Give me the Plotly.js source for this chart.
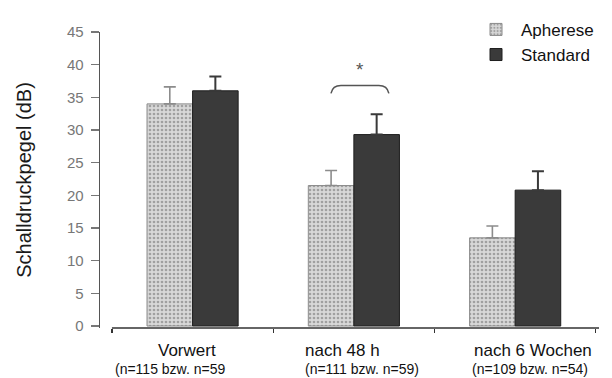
<!DOCTYPE html>
<html>
<head>
<meta charset="utf-8">
<script src="https://cdn.plot.ly/plotly-3.0.1.min.js"></script>
<style>html,body{margin:0;padding:0;background:#fff;}#chart{width:612px;height:378px;}</style>
</head>
<body>
<div id="chart"></div>
<script>
const categories = ["Vorwert", "nach 48 h", "nach 6 Wochen"];
const sampleNotes = ["(n=115 bzw. n=59", "(n=111 bzw. n=59)", "(n=109 bzw. n=54)"];
const seriesNames = ["Apherese", "Standard"];
const apherese = [34.0, 21.5, 13.5];
const apherErr = [2.6, 2.3, 1.8];
const standard = [36.0, 29.3, 20.8];
const standardErr = [2.2, 3.1, 2.9];
const yTicks = [0, 5, 10, 15, 20, 25, 30, 35, 40, 45];

const FONT = "Liberation Sans, Arial, Helvetica, sans-serif";

const traces = [
  {
    type: "bar", name: seriesNames[0], x: categories, y: apherese,
    marker: {
      color: "#d3d3d3",
      line: {color: "#8a8a8a", width: 1},
      pattern: {shape: ".", bgcolor: "#d8d8d8", fgcolor: "#a0a0a0", size: 4, solidity: 0.35}
    },
    error_y: {type: "data", symmetric: false, array: apherErr, arrayminus: apherese.map(() => 0),
              color: "#8c8c8c", thickness: 1.6, width: 6}
  },
  {
    type: "bar", name: seriesNames[1], x: categories, y: standard,
    marker: {color: "#3a3a3a", line: {color: "#1e1e1e", width: 1}},
    error_y: {type: "data", symmetric: false, array: standardErr, arrayminus: standard.map(() => 0),
              color: "#3a3a3a", thickness: 2, width: 6}
  }
];

const mainOffsets = [-0.229, -0.316, -0.266];
const noteOffsets = [-0.495, -0.316, -0.279];
const annotations = [];
categories.forEach((c, i) => {
  annotations.push({xref: "x", yref: "paper", x: i + mainOffsets[i], y: 0, xanchor: "left", yanchor: "top",
    yshift: -11, text: c, showarrow: false, font: {family: FONT, size: 17, color: "#111"}});
  annotations.push({xref: "x", yref: "paper", x: i + noteOffsets[i], y: 0, xanchor: "left", yanchor: "top",
    yshift: -31, text: sampleNotes[i], showarrow: false, font: {family: FONT, size: 14, color: "#111"}});
});
annotations.push({xref: "x", yref: "y", x: 1.037, y: 39.2, text: "*", showarrow: false,
  font: {family: FONT, size: 19, color: "#555"}});

const layout = {
  width: 612, height: 378,
  margin: {l: 100, r: 12, t: 19, b: 50},
  paper_bgcolor: "#ffffff", plot_bgcolor: "#ffffff",
  barmode: "group", bargap: 0.435, bargroupgap: 0,
  font: {family: FONT, color: "#222"},
  showlegend: true,
  legend: {x: 0.742, y: 1.068, xanchor: "left", yanchor: "top", bgcolor: "rgba(0,0,0,0)",
    font: {family: FONT, size: 17, color: "#111"}, tracegroupgap: 0, itemwidth: 40},
  xaxis: {range: [-0.574, 2.526], showline: false, showgrid: false, zeroline: false,
    showticklabels: false, ticks: "outside", tickmode: "array", tickvals: [-0.5, 0.5, 1.5, 2.5],
    ticklen: 4, tickcolor: "#333", tickwidth: 1.2, fixedrange: true},
  yaxis: {range: [-0.3, 45], tickmode: "array", tickvals: yTicks, showline: true, linecolor: "#555",
    linewidth: 1.4, ticks: "outside", ticklen: 8, tickcolor: "#777", tickwidth: 1.2,
    showgrid: false, zeroline: false, ticklabelstandoff: 4,
    tickfont: {family: FONT, size: 15, color: "#777"},
    title: {text: "Schalldruckpegel (dB)", standoff: 30, font: {family: FONT, size: 20, color: "#1a1a1a"}}},
  shapes: [
    {type: "line", xref: "x", yref: "paper", x0: -0.5, x1: 2.52, y0: 0, y1: 0,
     line: {color: "#333", width: 1.5}},
    {type: "path", xref: "x", yref: "y",
     path: "M 0.858,35.6 Q 0.868,36.8 0.92,36.8 L 1.155,36.8 Q 1.207,36.8 1.217,35.6",
     line: {color: "#555", width: 1.5}}
  ],
  annotations: annotations
};

Plotly.newPlot("chart", traces, layout, {displayModeBar: false, staticPlot: true});
</script>
</body>
</html>
